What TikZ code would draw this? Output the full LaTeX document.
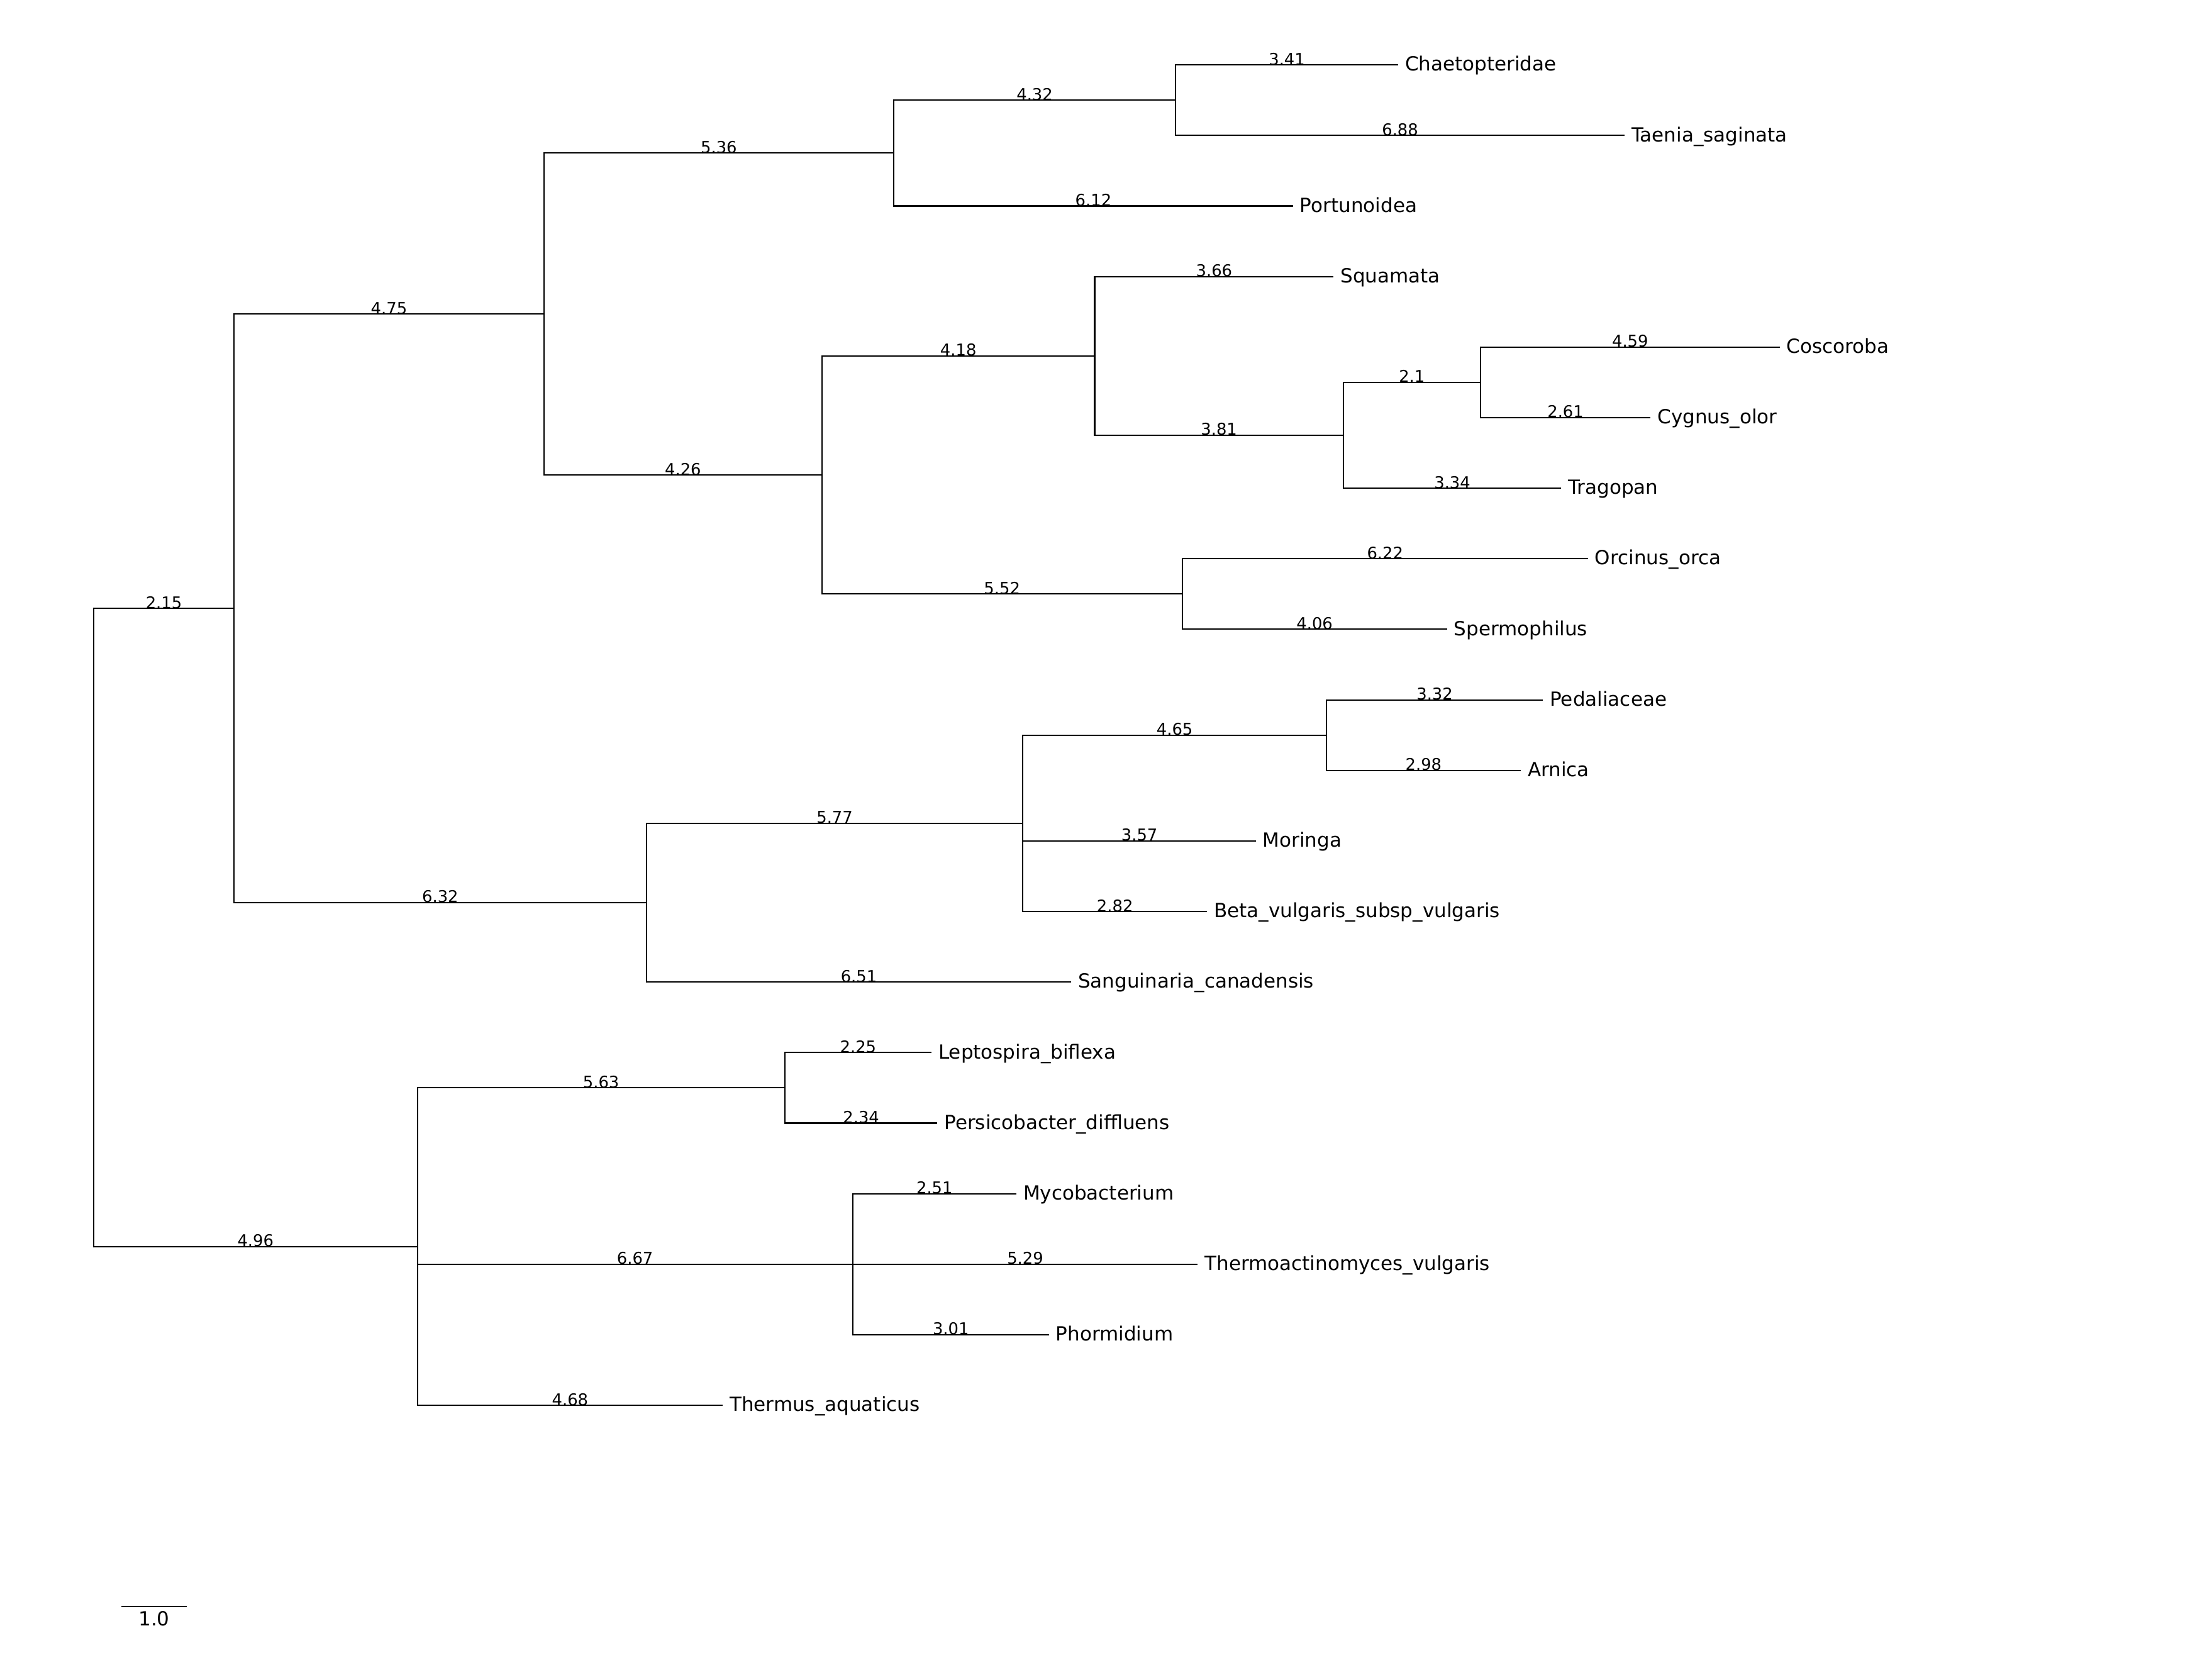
\documentclass[tikz,border=0pt]{standalone}
\usepackage{fontspec}
\setmainfont{DejaVu Sans}
\usetikzlibrary{calc}
\begin{document}
\begin{tikzpicture}[x=103.75pt, y=-112.15pt, line width=2.1pt,
  br/.style={draw=black},
  bl/.style={font=\fontsize{25.8}{30}\selectfont, anchor=base, inner sep=0pt, pos=0.75},
  leaf/.style={font=\fontsize{31}{37}\selectfont, anchor=base west, inner sep=0pt, xshift=10pt, yshift=-9.7pt},
  sbl/.style={font=\fontsize{31}{37}\selectfont, anchor=north, inner sep=0pt, yshift=-7pt}]
\useasboundingbox (-1.43614,-0.92020) rectangle (32.4627,22.8515);
% internal nodes
\coordinate (R) at (0,12.2265625);
\coordinate (A) at (2.15,7.703125);
\coordinate (B) at (6.90,3.53125);
\coordinate (C) at (12.26,1.25);
\coordinate (D) at (16.58,0.5);
\coordinate (E) at (11.16,5.8125);
\coordinate (F) at (15.34,4.125);
\coordinate (G) at (19.15,5.25);
\coordinate (H) at (21.25,4.5);
\coordinate (I) at (16.68,7.5);
\coordinate (J) at (8.47,11.875);
\coordinate (K) at (14.24,10.75);
\coordinate (L) at (18.89,9.5);
\coordinate (M) at (4.96,16.75);
\coordinate (N) at (10.59,14.5);
\coordinate (O) at (11.63,17);
% leaves
\coordinate (l0) at (19.99,0);
\coordinate (l1) at (23.46,1);
\coordinate (l2) at (18.38,2);
\coordinate (l3) at (19.00,3);
\coordinate (l4) at (25.84,4);
\coordinate (l5) at (23.86,5);
\coordinate (l6) at (22.49,6);
\coordinate (l7) at (22.90,7);
\coordinate (l8) at (20.74,8);
\coordinate (l9) at (22.21,9);
\coordinate (l10) at (21.87,10);
\coordinate (l11) at (17.81,11);
\coordinate (l12) at (17.06,12);
\coordinate (l13) at (14.98,13);
\coordinate (l14) at (12.84,14);
\coordinate (l15) at (12.93,15);
\coordinate (l16) at (14.14,16);
\coordinate (l17) at (16.92,17);
\coordinate (l18) at (14.64,18);
\coordinate (l19) at (9.64,19);
% branches
\draw[br] (R) |- node[bl]{2.15} (A);
\draw[br] (R) |- node[bl]{4.96} (M);
\draw[br] (A) |- node[bl]{4.75} (B);
\draw[br] (A) |- node[bl]{6.32} (J);
\draw[br] (B) |- node[bl]{5.36} (C);
\draw[br] (B) |- node[bl]{4.26} (E);
\draw[br] (C) |- node[bl]{4.32} (D);
\draw[br] (C) |- node[bl]{6.12} (l2);
\draw[br] (D) |- node[bl]{3.41} (l0);
\draw[br] (D) |- node[bl]{6.88} (l1);
\draw[br] (E) |- node[bl]{4.18} (F);
\draw[br] (E) |- node[bl]{5.52} (I);
\draw[br] (F) |- node[bl]{3.66} (l3);
\draw[br] (F) |- node[bl]{3.81} (G);
\draw[br] (G) |- node[bl]{2.1} (H);
\draw[br] (G) |- node[bl]{3.34} (l6);
\draw[br] (H) |- node[bl]{4.59} (l4);
\draw[br] (H) |- node[bl]{2.61} (l5);
\draw[br] (I) |- node[bl]{6.22} (l7);
\draw[br] (I) |- node[bl]{4.06} (l8);
\draw[br] (J) |- node[bl]{5.77} (K);
\draw[br] (J) |- node[bl]{6.51} (l13);
\draw[br] (K) |- node[bl]{4.65} (L);
\draw[br] (K) |- node[bl]{3.57} (l11);
\draw[br] (K) |- node[bl]{2.82} (l12);
\draw[br] (L) |- node[bl]{3.32} (l9);
\draw[br] (L) |- node[bl]{2.98} (l10);
\draw[br] (M) |- node[bl]{5.63} (N);
\draw[br] (M) |- node[bl]{6.67} (O);
\draw[br] (M) |- node[bl]{4.68} (l19);
\draw[br] (N) |- node[bl]{2.25} (l14);
\draw[br] (N) |- node[bl]{2.34} (l15);
\draw[br] (O) |- node[bl]{2.51} (l16);
\draw[br] (O) |- node[bl]{5.29} (l17);
\draw[br] (O) |- node[bl]{3.01} (l18);
% leaf labels
\node[leaf] (t0) at (l0) {Chaetopteridae};
\node[leaf] (t1) at (l1) {Taenia\_saginata};
\node[leaf] (t2) at (l2) {Portunoidea};
\node[leaf] (t3) at (l3) {Squamata};
\node[leaf] (t4) at (l4) {Coscoroba};
\node[leaf] (t5) at (l5) {Cygnus\_olor};
\node[leaf] (t6) at (l6) {Tragopan};
\node[leaf] (t7) at (l7) {Orcinus\_orca};
\node[leaf] (t8) at (l8) {Spermophilus};
\node[leaf] (t9) at (l9) {Pedaliaceae};
\node[leaf] (t10) at (l10) {Arnica};
\node[leaf] (t11) at (l11) {Moringa};
\node[leaf] (t12) at (l12) {Beta\_vulgaris\_subsp\_vulgaris};
\node[leaf] (t13) at (l13) {Sanguinaria\_canadensis};
\node[leaf] (t14) at (l14) {Leptospira\_biflexa};
\node[leaf] (t15) at (l15) {Persicobacter\_diffluens};
\node[leaf] (t16) at (l16) {Mycobacterium};
\node[leaf] (t17) at (l17) {Thermoactinomyces\_vulgaris};
\node[leaf] (t18) at (l18) {Phormidium};
\node[leaf] (t19) at (l19) {Thermus\_aquaticus};
% scale bar
\coordinate (sb1) at (0.425,21.85);
\coordinate (sb2) at (1.425,21.85);
\draw[br] (sb1) -- (sb2);
\node[sbl] (sbt) at ($(sb1)!0.5!(sb2)$) {1.0};
\end{tikzpicture}
\end{document}
